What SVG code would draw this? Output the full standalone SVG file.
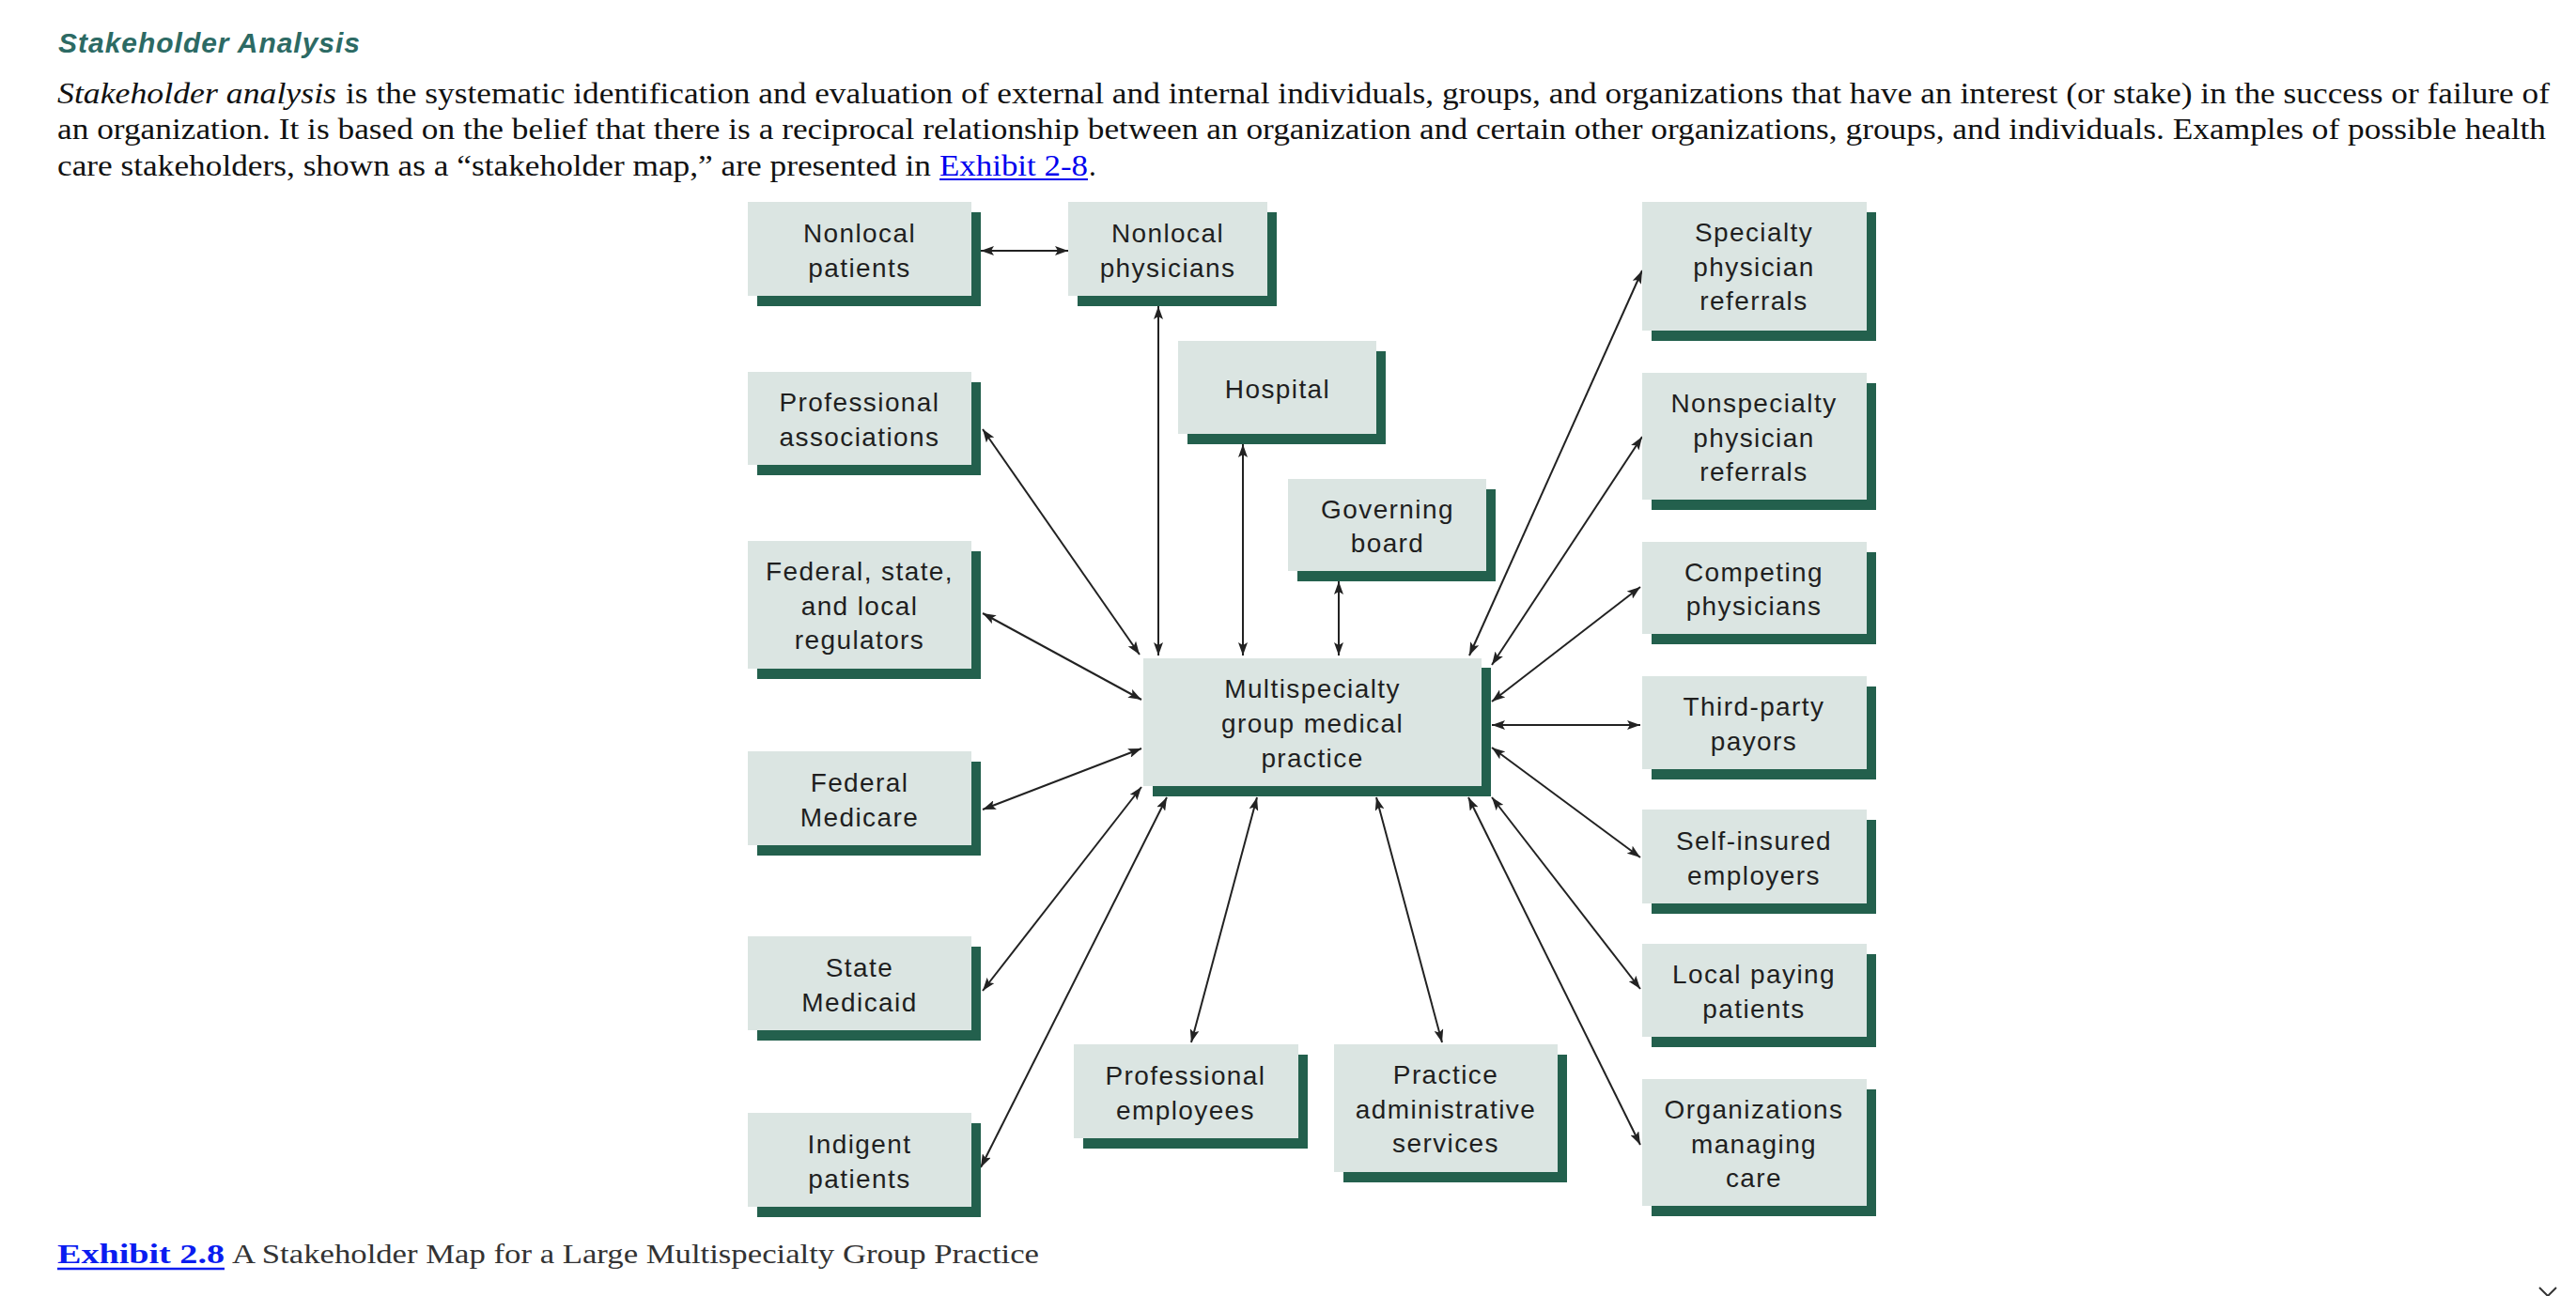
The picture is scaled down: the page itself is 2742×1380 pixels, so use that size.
<svg xmlns="http://www.w3.org/2000/svg" width="2742" height="1380" viewBox="0 0 2742 1380">
<defs>
<style>
.title{font-family:"Liberation Sans",Arial,sans-serif;font-weight:bold;font-style:italic;font-size:30px;fill:#2c6a64}
.body{font-family:"Liberation Serif","Times New Roman",serif;font-size:31px;fill:#111}
.it{font-style:italic}
.link{fill:#0000ee}
.cap{font-family:"Liberation Serif","Times New Roman",serif;font-size:30px;fill:#333}
.capl{font-weight:bold;fill:#0a1cf0}
.sh{fill:#23604d}
.bx{fill:#dbe5e2}
.lb{font-family:"Liberation Sans",Arial,sans-serif;font-size:28px;fill:#1f1f1f;text-anchor:middle;letter-spacing:1.4px}
.cn line{stroke:#222;stroke-width:2;marker-start:url(#ah);marker-end:url(#ah)}
</style>
<marker id="ah" viewBox="0 0 14 10" refX="14" refY="5" markerWidth="14" markerHeight="10" markerUnits="userSpaceOnUse" orient="auto-start-reverse">
<path d="M0,0 L14,5 L0,10 L3,5 z" fill="#222"/>
</marker>
</defs>
<rect width="2742" height="1380" fill="#fff"/>

<text class="title" x="62" y="56" textLength="321">Stakeholder Analysis</text>
<text class="body it" x="61" y="110" textLength="297" lengthAdjust="spacingAndGlyphs">Stakeholder analysis</text>
<text class="body" x="368" y="110" textLength="2346" lengthAdjust="spacingAndGlyphs">is the systematic identification and evaluation of external and internal individuals, groups, and organizations that have an interest (or stake) in the success or failure of</text>
<text class="body" x="61" y="148" textLength="2649" lengthAdjust="spacingAndGlyphs">an organization. It is based on the belief that there is a reciprocal relationship between an organization and certain other organizations, groups, and individuals. Examples of possible health</text>
<text class="body" x="61" y="187" textLength="930" lengthAdjust="spacingAndGlyphs">care stakeholders, shown as a “stakeholder map,” are presented in</text>
<text class="body link" x="1000" y="187" textLength="158" lengthAdjust="spacingAndGlyphs">Exhibit 2-8</text>
<line x1="1000" y1="191" x2="1158" y2="191" stroke="#0000ee" stroke-width="2"/>
<text class="body" x="1159" y="187">.</text>

<g class="cn" id="connectors">
<line x1="1044" y1="267" x2="1137" y2="267"/>
<line x1="1233" y1="326" x2="1233" y2="698"/>
<line x1="1323" y1="473" x2="1323" y2="698"/>
<line x1="1425" y1="619" x2="1425" y2="698"/>
<line x1="1046" y1="457" x2="1213" y2="697"/>
<line x1="1046" y1="653" x2="1215" y2="745"/>
<line x1="1046" y1="862" x2="1215" y2="797"/>
<line x1="1046" y1="1055" x2="1215" y2="838"/>
<line x1="1044" y1="1243" x2="1242" y2="849"/>
<line x1="1338" y1="849" x2="1268" y2="1110"/>
<line x1="1465" y1="849" x2="1535" y2="1110"/>
<line x1="1564" y1="698" x2="1748" y2="288"/>
<line x1="1588" y1="708" x2="1748" y2="465"/>
<line x1="1588" y1="747" x2="1746" y2="625"/>
<line x1="1588" y1="772" x2="1746" y2="772"/>
<line x1="1588" y1="796" x2="1746" y2="913"/>
<line x1="1588" y1="849" x2="1746" y2="1053"/>
<line x1="1563" y1="849" x2="1746" y2="1219"/>
</g>

<g id="n-nonlocal-patients"><rect class="sh" x="806" y="226" width="238" height="100"/><rect class="bx" x="796" y="215" width="238" height="100"/><text class="lb" x="915" y="258">Nonlocal</text><text class="lb" x="915" y="295">patients</text></g>
<g id="n-professional-associations"><rect class="sh" x="806" y="407" width="238" height="99"/><rect class="bx" x="796" y="396" width="238" height="99"/><text class="lb" x="915" y="438">Professional</text><text class="lb" x="915" y="475">associations</text></g>
<g id="n-regulators"><rect class="sh" x="806" y="587" width="238" height="136"/><rect class="bx" x="796" y="576" width="238" height="136"/><text class="lb" x="915" y="618">Federal, state,</text><text class="lb" x="915" y="655">and local</text><text class="lb" x="915" y="691">regulators</text></g>
<g id="n-medicare"><rect class="sh" x="806" y="811" width="238" height="100"/><rect class="bx" x="796" y="800" width="238" height="100"/><text class="lb" x="915" y="843">Federal</text><text class="lb" x="915" y="880">Medicare</text></g>
<g id="n-medicaid"><rect class="sh" x="806" y="1008" width="238" height="100"/><rect class="bx" x="796" y="997" width="238" height="100"/><text class="lb" x="915" y="1040">State</text><text class="lb" x="915" y="1077">Medicaid</text></g>
<g id="n-indigent"><rect class="sh" x="806" y="1196" width="238" height="100"/><rect class="bx" x="796" y="1185" width="238" height="100"/><text class="lb" x="915" y="1228">Indigent</text><text class="lb" x="915" y="1265">patients</text></g>

<g id="n-nonlocal-physicians"><rect class="sh" x="1147" y="226" width="212" height="100"/><rect class="bx" x="1137" y="215" width="212" height="100"/><text class="lb" x="1243" y="258">Nonlocal</text><text class="lb" x="1243" y="295">physicians</text></g>
<g id="n-hospital"><rect class="sh" x="1264" y="374" width="211" height="99"/><rect class="bx" x="1254" y="363" width="211" height="99"/><text class="lb" x="1360" y="424">Hospital</text></g>
<g id="n-governing-board"><rect class="sh" x="1381" y="521" width="211" height="98"/><rect class="bx" x="1371" y="510" width="211" height="98"/><text class="lb" x="1477" y="552">Governing</text><text class="lb" x="1477" y="588">board</text></g>
<g id="n-center"><rect class="sh" x="1227" y="711" width="360" height="137"/><rect class="bx" x="1217" y="701" width="360" height="136"/><text class="lb" x="1397" y="743">Multispecialty</text><text class="lb" x="1397" y="780">group medical</text><text class="lb" x="1397" y="817">practice</text></g>
<g id="n-professional-employees"><rect class="sh" x="1153" y="1123" width="239" height="100"/><rect class="bx" x="1143" y="1112" width="239" height="100"/><text class="lb" x="1262" y="1155">Professional</text><text class="lb" x="1262" y="1192">employees</text></g>
<g id="n-practice-admin"><rect class="sh" x="1430" y="1123" width="238" height="136"/><rect class="bx" x="1420" y="1112" width="238" height="136"/><text class="lb" x="1539" y="1154">Practice</text><text class="lb" x="1539" y="1191">administrative</text><text class="lb" x="1539" y="1227">services</text></g>

<g id="n-specialty"><rect class="sh" x="1758" y="226" width="239" height="137"/><rect class="bx" x="1748" y="215" width="239" height="137"/><text class="lb" x="1867" y="257">Specialty</text><text class="lb" x="1867" y="294">physician</text><text class="lb" x="1867" y="330">referrals</text></g>
<g id="n-nonspecialty"><rect class="sh" x="1758" y="408" width="239" height="135"/><rect class="bx" x="1748" y="397" width="239" height="135"/><text class="lb" x="1867" y="439">Nonspecialty</text><text class="lb" x="1867" y="476">physician</text><text class="lb" x="1867" y="512">referrals</text></g>
<g id="n-competing"><rect class="sh" x="1758" y="588" width="239" height="98"/><rect class="bx" x="1748" y="577" width="239" height="98"/><text class="lb" x="1867" y="619">Competing</text><text class="lb" x="1867" y="655">physicians</text></g>
<g id="n-third-party"><rect class="sh" x="1758" y="731" width="239" height="99"/><rect class="bx" x="1748" y="720" width="239" height="99"/><text class="lb" x="1867" y="762">Third-party</text><text class="lb" x="1867" y="799">payors</text></g>
<g id="n-self-insured"><rect class="sh" x="1758" y="873" width="239" height="100"/><rect class="bx" x="1748" y="862" width="239" height="100"/><text class="lb" x="1867" y="905">Self-insured</text><text class="lb" x="1867" y="942">employers</text></g>
<g id="n-local-paying"><rect class="sh" x="1758" y="1016" width="239" height="99"/><rect class="bx" x="1748" y="1005" width="239" height="99"/><text class="lb" x="1867" y="1047">Local paying</text><text class="lb" x="1867" y="1084">patients</text></g>
<g id="n-managed-care"><rect class="sh" x="1758" y="1160" width="239" height="135"/><rect class="bx" x="1748" y="1149" width="239" height="135"/><text class="lb" x="1867" y="1191">Organizations</text><text class="lb" x="1867" y="1228">managing</text><text class="lb" x="1867" y="1264">care</text></g>

<text class="cap capl" x="61" y="1345" textLength="178" lengthAdjust="spacingAndGlyphs">Exhibit 2.8</text>
<line x1="61" y1="1351" x2="239" y2="1351" stroke="#0a1cf0" stroke-width="2.5"/>
<text class="cap" x="247" y="1345" textLength="859" lengthAdjust="spacingAndGlyphs">A Stakeholder Map for a Large Multispecialty Group Practice</text>
<polyline points="2703,1371 2712,1380 2721,1371" fill="none" stroke="#333" stroke-width="2"/>
</svg>
